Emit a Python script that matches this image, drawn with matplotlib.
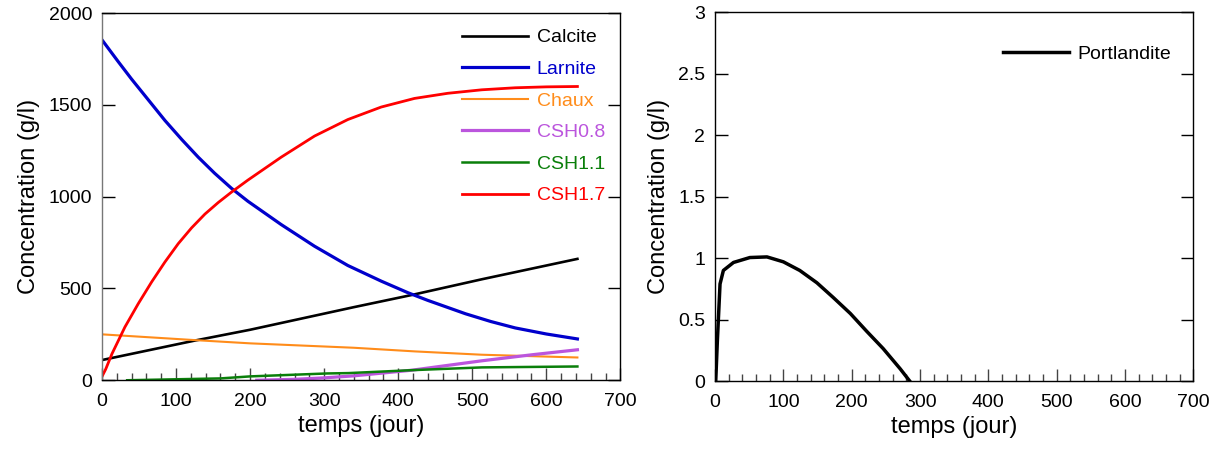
import matplotlib.pyplot as plt
from matplotlib.ticker import MultipleLocator

plt.rcParams['font.family'] = ['Liberation Sans', 'DejaVu Sans']

# Data
t_calcite = [0, 124, 200, 340, 419, 513, 642]
calcite = [110, 215, 275, 398, 465, 550, 661]

t_larnite = [0, 22, 40, 63, 85, 108, 130, 152, 175, 197, 242, 287, 332, 377, 413, 440, 491, 525, 558, 600, 642]
larnite = [1854, 1735, 1640, 1525, 1415, 1310, 1215, 1128, 1045, 975, 848, 730, 625, 540, 477, 435, 362, 320, 285, 252, 225]

t_chaux = [0, 124, 200, 340, 423, 513, 642]
chaux = [250, 219, 201, 177, 157, 139, 124]

t_csh08 = [209, 260, 300, 340, 419, 513, 581, 642]
csh08 = [0, 5, 13, 24, 55, 106, 139, 166]

t_csh11 = [34, 160, 200, 304, 333, 419, 513, 642]
csh11 = [0, 10, 21, 37, 39, 55, 70, 75]

t_csh17 = [0, 5, 13.5, 31, 49, 67, 85, 103, 121, 139, 157, 175, 197, 242, 287, 332, 377, 422, 467, 513, 558, 600, 642]
csh17 = [20, 60, 144, 290, 417, 535, 644, 744, 830, 905, 968, 1025, 1090, 1215, 1330, 1420, 1488, 1535, 1563, 1582, 1593, 1598, 1600]

t_portl = [1, 3.4, 7.3, 12.2, 27, 51, 76, 100, 124, 149, 173, 198, 222, 246, 271, 285]
portl = [0, 0.33, 0.79, 0.90, 0.965, 1.005, 1.01, 0.97, 0.90, 0.80, 0.68, 0.55, 0.405, 0.265, 0.10, 0]

fig = plt.figure(figsize=(12.14, 4.5), dpi=100)
ax1 = fig.add_axes([0.084, 0.155, 0.427, 0.816])
ax2 = fig.add_axes([0.589, 0.153, 0.394, 0.82])

ax1.plot(t_calcite, calcite, color='black', lw=1.9, label='Calcite')
ax1.plot(t_larnite, larnite, color='#0000cc', lw=2.3, label='Larnite')
ax1.plot(t_chaux, chaux, color='#ff8c1a', lw=1.5, label='Chaux')
ax1.plot(t_csh08, csh08, color='#bb55dd', lw=2.3, label='CSH0.8')
ax1.plot(t_csh11, csh11, color='#0a7f0a', lw=1.8, label='CSH1.1')
ax1.plot(t_csh17, csh17, color='#ff0000', lw=2.0, label='CSH1.7')

ax2.plot(t_portl, portl, color='black', lw=2.5, label='Portlandite')

for ax, ymax, ystep in [(ax1, 2000, 500), (ax2, 3, 0.5)]:
    ax.set_xlim(0, 700)
    ax.set_ylim(0, ymax)
    ax.xaxis.set_major_locator(MultipleLocator(100))
    ax.xaxis.set_minor_locator(MultipleLocator(20))
    ax.yaxis.set_major_locator(MultipleLocator(ystep))
    ax.tick_params(axis='x', which='major', direction='in', length=9, width=1, labelsize=14, pad=9, color='#444444')
    ax.tick_params(axis='x', which='minor', direction='in', length=5, width=1, color='#444444')
    ax.tick_params(axis='y', which='major', direction='in', length=9, width=1, labelsize=14, pad=7,
                   left=True, right=True)
    ax.set_xlabel('temps (jour)', fontsize=17, labelpad=4)
    ax.set_ylabel('Concentration (g/l)', fontsize=17, labelpad=6)
    for s in ax.spines.values():
        s.set_linewidth(1.0)

ax1.spines['left'].set_color('#777777')
ax2.set_yticks([0, 0.5, 1, 1.5, 2, 2.5, 3])
ax2.set_yticklabels(['0', '0.5', '1', '1.5', '2', '2.5', '3'])

ax1.legend(loc='upper right', bbox_to_anchor=(1.004, 1.005), frameon=False, fontsize=14,
           handlelength=3.4, handletextpad=0.45, labelspacing=0.72, labelcolor='linecolor')
ax2.legend(loc='upper right', bbox_to_anchor=(0.991, 0.957), frameon=False, fontsize=14,
           handlelength=3.4, handletextpad=0.45, labelcolor='linecolor')

fig.savefig('out.png', dpi=100)
